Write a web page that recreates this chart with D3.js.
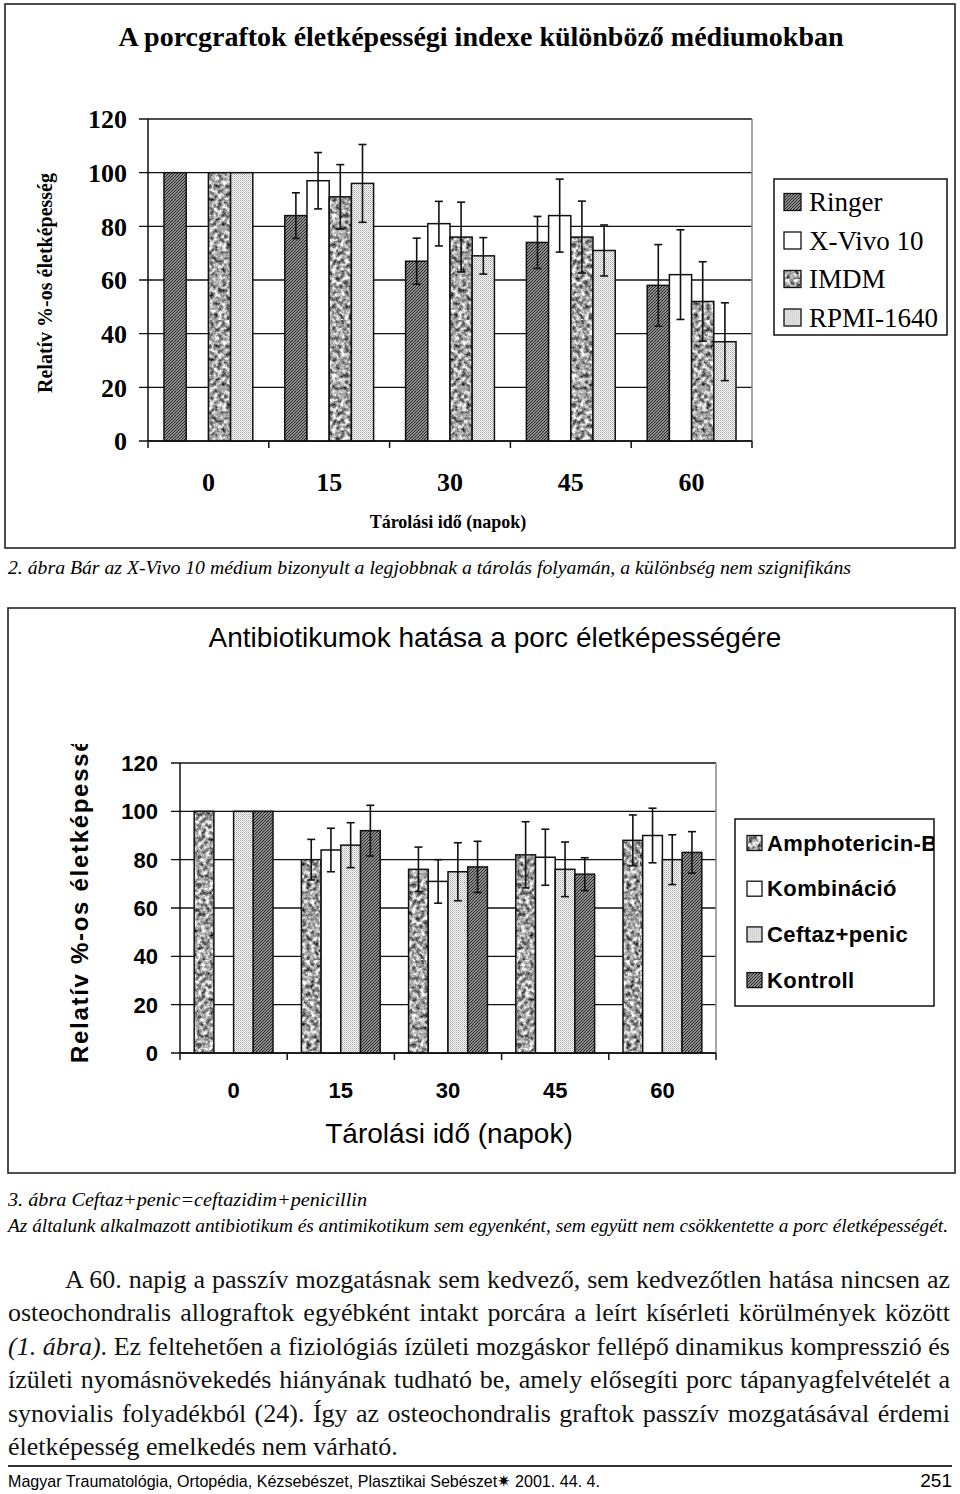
<!DOCTYPE html>
<html>
<head>
<meta charset="utf-8">
<script src="https://cdn.jsdelivr.net/npm/d3@7"></script>
<style>
  body { margin: 0; background: #fff; }
</style>
</head>
<body>
<script>
// storage days (x categories) and y ticks
var days = ['0', '15', '30', '45', '60'];
var yTicks = [0, 20, 40, 60, 80, 100, 120];

// Figure 2: media
var mediaNames = ['Ringer', 'X-Vivo 10', 'IMDM', 'RPMI-1640'];
var ringer = [100, 84, 67, 74, 58];
var ringerErr = [0, 8.5, 8.6, 9.7, 15.2];
var xvivo = [null, 97, 81, 84, 62];
var xvivoErr = [0, 10.5, 8.3, 13.6, 16.7];
var imdm = [100, 91, 76, 76, 52];
var imdmErr = [0, 12, 13, 13.4, 14.8];
var rpmi = [100, 96, 69, 71, 37];
var rpmiErr = [0, 14.5, 6.8, 9.5, 14.5];

// Figure 3: antibiotics
var abNames = ['Amphotericin-B', 'Kombináció', 'Ceftaz+penic', 'Kontroll'];
var amph = [100, 80, 76, 82, 88];
var amphErr = [0, 8.4, 9.2, 13.7, 10.5];
var komb = [null, 84, 71, 81, 90];
var kombErr = [0, 9, 9, 11.6, 11.3];
var ceftaz = [100, 86, 75, 76, 80];
var ceftazErr = [0, 9.3, 12, 11.3, 10.3];
var kontroll = [100, 92, 77, 74, 83];
var kontrollErr = [0, 10.5, 10.6, 6.8, 8.6];

var svg = d3.select('body').append('svg')
  .attr('width', 960)
  .attr('height', 1494);

var defs = svg.append('defs');

// dense diagonal hatch (Ringer / Kontroll)
var hatch = defs.append('pattern')
  .attr('id', 'hatch').attr('patternUnits', 'userSpaceOnUse')
  .attr('width', 3).attr('height', 3);
hatch.append('rect').attr('width', 3).attr('height', 3).attr('fill', '#c8c8c8');
hatch.append('path')
  .attr('d', 'M-1,1 l2,-2 M0,3 l3,-3 M2,4 l2,-2')
  .attr('stroke', '#1a1a1a').attr('stroke-width', 1.2);

// fine stipple (RPMI / Ceftaz)
var dots = defs.append('pattern')
  .attr('id', 'dots').attr('patternUnits', 'userSpaceOnUse')
  .attr('width', 2).attr('height', 2);
dots.append('rect').attr('width', 2).attr('height', 2).attr('fill', '#fff');
dots.append('rect').attr('width', 1).attr('height', 1).attr('fill', '#a8a8a8');
dots.append('rect').attr('x', 1).attr('y', 1).attr('width', 1).attr('height', 1).attr('fill', '#c4c4c4');

// mottled grain (IMDM / Amphotericin)
var mf = defs.append('filter').attr('id', 'grain')
  .attr('x', 0).attr('y', 0).attr('width', 1).attr('height', 1)
  .attr('color-interpolation-filters', 'sRGB');
mf.append('feTurbulence').attr('type', 'fractalNoise')
  .attr('baseFrequency', 0.24).attr('numOctaves', 3).attr('seed', 7);
mf.append('feColorMatrix').attr('type', 'matrix')
  .attr('values', '1.6 0 0 0 -0.16  1.6 0 0 0 -0.16  1.6 0 0 0 -0.16  0 0 0 0 1');
var mottle = defs.append('pattern')
  .attr('id', 'mottle').attr('patternUnits', 'userSpaceOnUse')
  .attr('width', 80).attr('height', 160);
mottle.append('rect').attr('width', 80).attr('height', 160)
  .attr('fill', '#999').attr('filter', 'url(#grain)');

function drawChart(o) {
  var x0 = d3.scaleBand().domain(days).range([o.left, o.right]);
  var x1 = d3.scaleBand().domain(d3.range(o.values.length))
    .range([0, x0.bandwidth()]).paddingOuter(0.72);
  var y = d3.scaleLinear().domain([0, 120]).range([o.bottom, o.top]);
  var g = svg.append('g');

  g.selectAll(null).data(yTicks).enter().append('line')
    .attr('x1', o.left - 9).attr('x2', o.right)
    .attr('y1', y).attr('y2', y)
    .attr('stroke', '#111').attr('stroke-width', 1.4);

  g.selectAll(null).data(yTicks).enter().append('text')
    .attr('x', o.yLabX).attr('y', function(d) { return y(d); })
    .attr('dy', '0.36em').attr('text-anchor', 'end')
    .style('font', o.tickFont).text(function(d) { return d; });

  o.values.forEach(function(vals, j) {
    var rows = days.map(function(d, i) { return { day: d, v: vals[i] }; })
      .filter(function(r) { return r.v != null; });
    g.selectAll(null).data(rows).enter().append('rect')
      .attr('x', function(r) { return x0(r.day) + x1(j); })
      .attr('width', x1.bandwidth())
      .attr('y', function(r) { return y(r.v); })
      .attr('height', function(r) { return y(0) - y(r.v); })
      .attr('fill', o.fills[j])
      .attr('stroke', '#111').attr('stroke-width', 1.5);
  });

  // error bars on top of all bars
  o.values.forEach(function(vals, j) {
    var rows = days.map(function(d, i) { return { day: d, v: vals[i], e: o.errs[j][i] }; })
      .filter(function(r) { return r.v != null && r.e > 0; });
    var cx = function(r) { return x0(r.day) + x1(j) + x1.bandwidth() / 2; };
    var eb = g.selectAll(null).data(rows).enter().append('g')
      .attr('stroke', '#111').attr('stroke-width', 1.6);
    eb.append('line').attr('x1', cx).attr('x2', cx)
      .attr('y1', function(r) { return y(r.v + r.e); })
      .attr('y2', function(r) { return y(r.v - r.e); });
    [1, -1].forEach(function(s) {
      eb.append('line')
        .attr('x1', function(r) { return cx(r) - 4; })
        .attr('x2', function(r) { return cx(r) + 4; })
        .attr('y1', function(r) { return y(r.v + s * r.e); })
        .attr('y2', function(r) { return y(r.v + s * r.e); });
    });
  });

  // axes
  g.append('line').attr('x1', o.left).attr('x2', o.left)
    .attr('y1', o.top).attr('y2', o.bottom + 7)
    .attr('stroke', '#111').attr('stroke-width', 1.5);
  g.append('line').attr('x1', o.right).attr('x2', o.right)
    .attr('y1', o.top).attr('y2', o.bottom)
    .attr('stroke', '#888').attr('stroke-width', 1.5);
  g.append('line').attr('x1', o.left).attr('x2', o.right)
    .attr('y1', y(0)).attr('y2', y(0))
    .attr('stroke', '#111').attr('stroke-width', 1.6);
  var bounds = days.map(function(d) { return x0(d); }).slice(1).concat([o.right]);
  g.selectAll(null).data(bounds).enter().append('line')
    .attr('x1', function(d) { return d; }).attr('x2', function(d) { return d; })
    .attr('y1', y(0)).attr('y2', y(0) + 7)
    .attr('stroke', '#111').attr('stroke-width', 1.5);

  g.selectAll(null).data(days).enter().append('text')
    .attr('x', function(d) { return x0(d) + x0.bandwidth() / 2; })
    .attr('y', o.xLabY).attr('text-anchor', 'middle')
    .style('font', o.tickFont).text(function(d) { return d; });

  g.append('text').attr('x', o.xTitleX).attr('y', o.xTitleY)
    .attr('text-anchor', 'middle').style('font', o.xTitleFont)
    .text('Tárolási idő (napok)');

  g.append('text').attr('x', o.titleX).attr('y', o.titleY)
    .attr('text-anchor', 'middle').style('font', o.titleFont).text(o.title);

  // legend, clipped to its box like the original
  var clip = 'lc' + o.id;
  defs.append('clipPath').attr('id', clip).append('rect')
    .attr('x', o.legX).attr('y', o.legY).attr('width', o.legW).attr('height', o.legH);
  var lg = svg.append('g');
  lg.append('rect').attr('x', o.legX).attr('y', o.legY)
    .attr('width', o.legW).attr('height', o.legH)
    .attr('fill', '#fff').attr('stroke', '#111').attr('stroke-width', 1.5);
  var inner = lg.append('g').attr('clip-path', 'url(#' + clip + ')');
  var items = inner.selectAll(null).data(o.names).enter().append('g')
    .attr('transform', function(d, i) { return 'translate(0,' + (o.legItemY + i * o.legStep) + ')'; });
  items.append('rect').attr('x', o.legSwX).attr('y', -o.legSw / 2)
    .attr('width', o.legSw).attr('height', o.legSw)
    .attr('fill', function(d, i) { return o.fills[i]; })
    .attr('stroke', '#111').attr('stroke-width', 1.3);
  items.append('text').attr('x', o.legTextX).attr('dy', '0.35em')
    .attr('letter-spacing', o.legSpacing)
    .style('font', o.legFont).text(function(d) { return d; });
}

// frames
svg.append('rect').attr('x', 5).attr('y', 4).attr('width', 950).attr('height', 544)
  .attr('fill', 'none').attr('stroke', '#222').attr('stroke-width', 1.6);
svg.append('rect').attr('x', 8).attr('y', 608).attr('width', 947).attr('height', 565)
  .attr('fill', 'none').attr('stroke', '#222').attr('stroke-width', 1.6);

drawChart({
  id: 'a',
  left: 148, right: 752, top: 119, bottom: 441,
  values: [ringer, xvivo, imdm, rpmi],
  errs: [ringerErr, xvivoErr, imdmErr, rpmiErr],
  fills: ['url(#hatch)', '#fff', 'url(#mottle)', 'url(#dots)'],
  names: mediaNames,
  tickFont: 'bold 26px "Liberation Serif"',
  yLabX: 127,
  xLabY: 491,
  xTitleX: 448, xTitleY: 528,
  xTitleFont: 'bold 18px "Liberation Serif"',
  title: 'A porcgraftok életképességi indexe különböző médiumokban',
  titleX: 481, titleY: 46,
  titleFont: 'bold 28px "Liberation Serif"',
  legX: 774, legY: 179, legW: 173, legH: 156,
  legItemY: 202, legStep: 38.5, legSwX: 784, legSw: 17, legTextX: 809,
  legFont: '27px "Liberation Serif"', legSpacing: 0
});

drawChart({
  id: 'b',
  left: 180, right: 716, top: 763, bottom: 1053,
  values: [amph, komb, ceftaz, kontroll],
  errs: [amphErr, kombErr, ceftazErr, kontrollErr],
  fills: ['url(#mottle)', '#fff', 'url(#dots)', 'url(#hatch)'],
  names: abNames,
  tickFont: 'bold 22px "Liberation Sans"',
  yLabX: 158,
  xLabY: 1098,
  xTitleX: 449, xTitleY: 1143,
  xTitleFont: '28px "Liberation Sans"',
  title: 'Antibiotikumok hatása a porc életképességére',
  titleX: 495, titleY: 647,
  titleFont: '28px "Liberation Sans"',
  legX: 735, legY: 819, legW: 199, legH: 187,
  legItemY: 843, legStep: 45.7, legSwX: 747, legSw: 15, legTextX: 767,
  legFont: 'bold 22px "Liberation Sans"', legSpacing: 0.4
});

// y axis titles
svg.append('text')
  .attr('transform', 'translate(52,283) rotate(-90)')
  .attr('text-anchor', 'middle')
  .style('font', 'bold 20px "Liberation Serif"')
  .text('Relatív %-os életképesség');

defs.append('clipPath').attr('id', 'ytclip').append('rect')
  .attr('x', 40).attr('y', 744).attr('width', 80).attr('height', 340);
svg.append('g').attr('clip-path', 'url(#ytclip)')
  .append('text')
  .attr('transform', 'translate(88,1063) rotate(-90)')
  .attr('text-anchor', 'start')
  .style('font', 'bold 24px "Liberation Sans"')
  .attr('letter-spacing', 1.7)
  .text('Relatív %-os életképesség');

// captions
var capFont = 'italic 19px "Liberation Serif"';
svg.append('text').attr('x', 8).attr('y', 574).style('font', capFont)
  .attr('textLength', 843).attr('lengthAdjust', 'spacingAndGlyphs')
  .text('2. ábra  Bár az X-Vivo 10 médium bizonyult a legjobbnak a tárolás folyamán, a különbség nem szignifikáns');
svg.append('text').attr('x', 8).attr('y', 1206).style('font', capFont)
  .attr('textLength', 359).attr('lengthAdjust', 'spacingAndGlyphs')
  .text('3. ábra  Ceftaz+penic=ceftazidim+penicillin');
svg.append('text').attr('x', 8).attr('y', 1232).style('font', capFont)
  .attr('textLength', 940).attr('lengthAdjust', 'spacingAndGlyphs')
  .text('Az általunk alkalmazott antibiotikum és antimikotikum sem egyenként, sem együtt nem csökkentette a porc életképességét.');

// body paragraph
var bodyLines = [
  [['', 'A 60. napig a passzív mozgatásnak sem kedvező, sem kedvezőtlen hatása nincsen az']],
  [['', 'osteochondralis allograftok egyébként intakt porcára a leírt kísérleti körülmények között']],
  [['i', '(1. ábra)'], ['', '. Ez feltehetően a fiziológiás ízületi mozgáskor fellépő dinamikus kompresszió és']],
  [['', 'ízületi nyomásnövekedés hiányának tudható be, amely elősegíti porc tápanyagfelvételét a']],
  [['', 'synovialis folyadékból (24). Így az osteochondralis graftok passzív mozgatásával érdemi']],
  [['', 'életképesség emelkedés nem várható.']]
];
bodyLines.forEach(function(parts, i) {
  var x = i === 0 ? 65 : 8;
  var t = svg.append('text').attr('x', x).attr('y', 1288 + i * 33.4)
    .style('font', '26px "Liberation Serif"').attr('fill', '#111');
  parts.forEach(function(p) {
    t.append('tspan').style('font-style', p[0] === 'i' ? 'italic' : 'normal').text(p[1]);
  });
  if (i < bodyLines.length - 1) {
    var len = t.node().getComputedTextLength();
    var spaces = (t.text().match(/ /g) || []).length;
    var extra = (950 - x - len) / spaces;
    if (extra >= -2) {
      t.attr('word-spacing', extra);
    } else {
      t.attr('textLength', 950 - x).attr('lengthAdjust', 'spacingAndGlyphs');
    }
  }
});

// footer
svg.append('line').attr('x1', 8).attr('x2', 952).attr('y1', 1466).attr('y2', 1466)
  .attr('stroke', '#333').attr('stroke-width', 2);
svg.append('text').attr('x', 8).attr('y', 1487)
  .style('font', '17px "Liberation Sans"')
  .attr('textLength', 592).attr('lengthAdjust', 'spacingAndGlyphs')
  .text('Magyar Traumatológia, Ortopédia, Kézsebészet, Plasztikai Sebészet\u2737 2001. 44. 4.');
svg.append('text').attr('x', 952).attr('y', 1487).attr('text-anchor', 'end')
  .style('font', '19px "Liberation Sans"').text('251');
</script>
</body>
</html>
